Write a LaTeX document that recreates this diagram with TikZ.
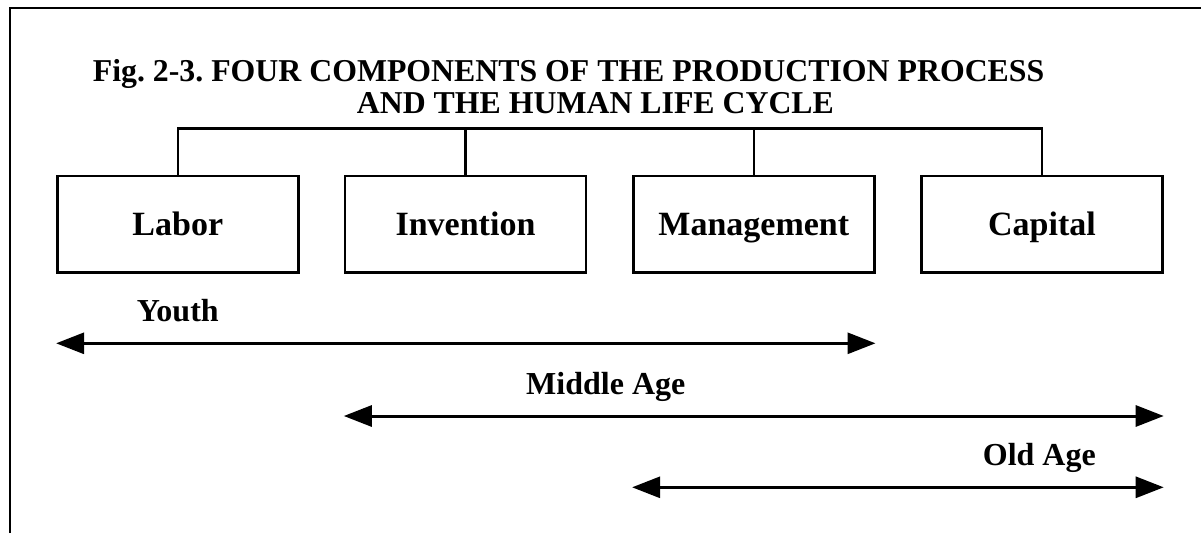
\documentclass[tikz,border=0pt]{standalone}
\usepackage{fontspec}
\setmainfont{Liberation Serif}
\usetikzlibrary{arrows.meta}
\frenchspacing
\begin{document}
\begin{tikzpicture}[x=1pt,y=-1pt,
  compbox/.style={draw,line width=2.4pt,minimum width=241pt,minimum height=96.7pt,inner sep=0pt,
    text height=22.6pt,text depth=0pt,font=\fontsize{34}{40}\selectfont\bfseries},
  tree/.style={line width=2.4pt},
  frameline/.style={line width=2.4pt},
  span/.style={line width=3pt,{Triangle[length=28pt,width=21pt]}-{Triangle[length=28pt,width=21pt]}},
  agelabel/.style={anchor=base west,inner sep=0pt,font=\fontsize{32}{38}\selectfont\bfseries},
  titletext/.style={anchor=base west,inner sep=0pt,font=\fontsize{31.8}{38}\selectfont\bfseries\frenchspacing}]
\useasboundingbox (0,0) rectangle (1201,533);
% frame (top and left only)
\coordinate (fc) at (10,8);
\coordinate (fr) at (1201,8);
\coordinate (fb) at (10,533);
\draw[frameline] (fb) -- (fc) -- (fr);
% title
\node[titletext] (t1) at (92.7,81.7) {Fig. 2-3. FOUR COMPONENTS OF THE PRODUCTION PROCESS};
\node[titletext] (t2) at (356.7,113.3) {AND THE HUMAN LIFE CYCLE};
% boxes
\node[compbox] (labor) at (177.8,224.3) {Labor};
\node[compbox] (invention) at (465.5,224.3) {Invention};
\node[compbox] (management) at (753.8,224.3) {Management};
\node[compbox] (capital) at (1042,224.3) {Capital};
% tree
\coordinate (bar) at (0,128.3);
\draw[tree] (labor.north) -- (labor.north |- bar) -- (capital.north |- bar) -- (capital.north);
\draw[tree] (invention.north) -- (invention.north |- bar);
\draw[tree] (management.north) -- (management.north |- bar);
% age spans
\coordinate (ya) at (0,343.3);
\coordinate (ma) at (0,416);
\coordinate (oa) at (0,487.3);
\node[agelabel] (youth) at (136.7,321.7) {Youth};
\node[agelabel] (middle) at (526,394.3) {Middle Age};
\node[agelabel] (old) at (982.7,465.7) {Old Age};
\draw[span] (labor.west |- ya) -- (management.east |- ya);
\draw[span] (invention.west |- ma) -- (capital.east |- ma);
\draw[span] (management.west |- oa) -- (capital.east |- oa);
\end{tikzpicture}
\end{document}
